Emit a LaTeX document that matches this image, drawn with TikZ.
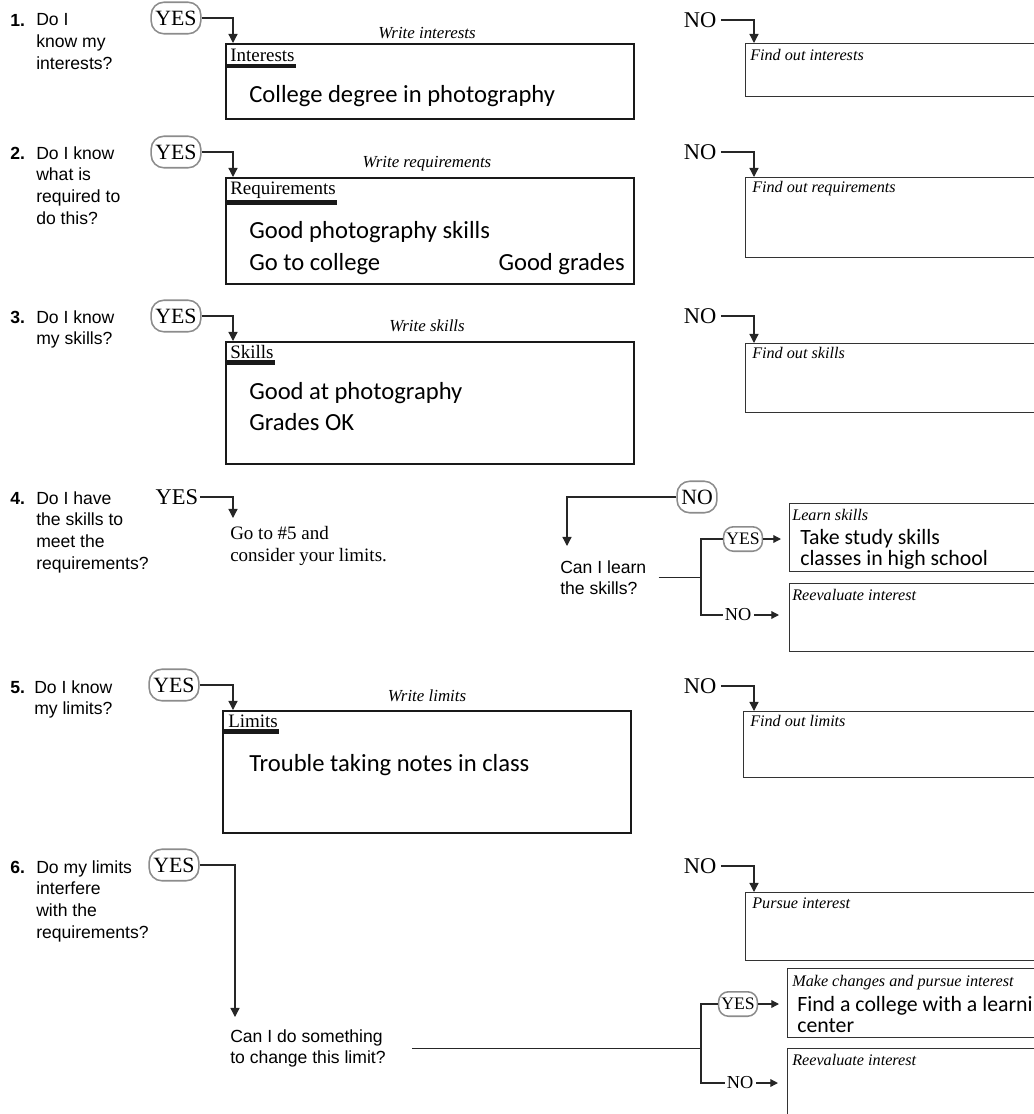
\documentclass[tikz,border=0pt]{standalone}
\usepackage{fontspec}
\setmainfont{Liberation Serif}
\setsansfont{Liberation Sans}
\newfontfamily\handfont{Carlito}
\usetikzlibrary{arrows.meta,calc}

\begin{document}
\begin{tikzpicture}[x=0.025cm, y=-0.025cm,
	link/.style={draw=black!85, line width=0.9pt},
	flow/.style={link, -{Triangle[width=6.5pt,length=6.5pt]}},
	flowsm/.style={link, -{Triangle[width=5.5pt,length=5.5pt]}},
	num/.style={font=\sffamily\bfseries\fontsize{12.5}{15.6}\selectfont, anchor=base west, inner sep=0pt},
	ques/.style={font=\sffamily\fontsize{12.5}{15.6}\selectfont, align=left, anchor=north west, inner sep=0pt},
	ring/.style={draw=black!45, line width=1.1pt, rounded corners=9pt, inner xsep=3pt, inner ysep=6pt, font=\fontsize{15.5}{18}\selectfont},
	ringsm/.style={draw=black!45, line width=1.1pt, rounded corners=7pt, inner xsep=2pt, inner ysep=4.5pt, font=\fontsize{12.5}{15}\selectfont},
	ans/.style={font=\fontsize{16}{18}\selectfont, inner sep=1pt},
	anssm/.style={font=\fontsize{13}{15}\selectfont, inner sep=1pt},
	hint/.style={font=\itshape\fontsize{12}{14}\selectfont, anchor=base, inner sep=0pt},
	tag/.style={font=\itshape\fontsize{11.5}{14}\selectfont, anchor=base west, inner sep=0pt},
	lab/.style={font=\fontsize{13.5}{16}\selectfont, anchor=base west, inner sep=0pt},
	hand/.style={font=\handfont\fontsize{17.5}{22}\selectfont, anchor=base west, inner sep=0pt},
	handsm/.style={font=\handfont\fontsize{15.5}{15}\selectfont, align=left, anchor=north west, inner sep=0pt},
	bigbox/.style={draw=black!90, line width=1.4pt, anchor=north west, minimum width=10.2cm, minimum height=#1, inner sep=0pt},
	rbox/.style={draw=black!80, line width=0.8pt, anchor=north west, minimum width=9.5cm, minimum height=#1, inner sep=0pt}]
	\useasboundingbox (0,0) rectangle (1034,1114);
	\clip (0,0) rectangle (1034,1114);

	% 1
	\node[num] (n1) at (10,26) {1.};
	\node[ques] (q1) at (36,13) {Do I\\know my\\interests?};
	\node[ring] (yes1) at (176,18) {YES};
	\node[bigbox=1.875cm] (intbox) at (225,43) {};
	\node[hint] (hint1) at (427,38) {Write interests};
	\node[lab] (intlab) at (230,61.5) {Interests};
	\node[hand] (int) at (249,102) {College degree in photography};
	\node[ans] (no1) at (700,20) {NO};
	\node[rbox=1.325cm] (findint) at (745,43) {};
	\node[tag] at (750,60) {Find out interests};
	\draw[flow] (yes1.east) -| ($(intbox.north west)+(8,0)$);
	\draw[flow] ([xshift=2pt]no1.east) -| ($(findint.north west)+(9,0)$);

	% 2
	\node[num] (n2) at (10,159) {2.};
	\node[ques] (q2) at (36,146) {Do I know\\what is\\required to\\do this?};
	\node[ring] (yes2) at (176,152) {YES};
	\node[bigbox=2.65cm] (reqbox) at (225,177) {};
	\node[hint] (hint2) at (427,167.5) {Write requirements};
	\node[lab] (reqlab) at (230,194) {Requirements};
	\node[hand] (req1) at (249,238) {Good photography skills};
	\node[hand] (req2) at (249,270) {Go to college};
	\node[hand, anchor=base east] (req3) at (625,270) {Good grades};
	\node[ans] (no2) at (700,152) {NO};
	\node[rbox=2cm] (findreq) at (745,177) {};
	\node[tag] at (752,192) {Find out requirements};
	\draw[flow] (yes2.east) -| ($(reqbox.north west)+(8,0)$);
	\draw[flow] ([xshift=2pt]no2.east) -| ($(findreq.north west)+(9,0)$);

	% 3
	\node[num] (n3) at (10,323) {3.};
	\node[ques] (q3) at (36,310) {Do I know\\my skills?};
	\node[ring] (yes3) at (176,316) {YES};
	\node[bigbox=3.05cm] (skillbox) at (225,341) {};
	\node[hint] (hint3) at (427,331) {Write skills};
	\node[lab] (skilllab) at (230,358) {Skills};
	\node[hand] (sk1) at (249,399) {Good at photography};
	\node[hand] (sk2) at (249,430) {Grades OK};
	\node[ans] (no3) at (700,316) {NO};
	\node[rbox=1.725cm] (findskill) at (745,343) {};
	\node[tag] at (752,358) {Find out skills};
	\draw[flow] (yes3.east) -| ($(skillbox.north west)+(8,0)$);
	\draw[flow] ([xshift=2pt]no3.east) -| ($(findskill.north west)+(9,0)$);

	% 4
	\node[num] (n4) at (10,504) {4.};
	\node[ques] (q4) at (36,491) {Do I have\\the skills to\\meet the\\requirements?};
	\node[ans] (yes4) at (177,497) {YES};
	\node[font=\fontsize{13.5}{15.6}\selectfont, align=left, anchor=north west, inner sep=0pt] (goto) at (230,526) {Go to \#5 and\\consider your limits.};
	\node[ring] (no4) at (697,497) {NO};
	\node[ques] (learnq) at (560,560) {Can I learn\\the skills?};
	\coordinate (fork4) at (701,579);
	\node[ringsm] (yes4b) at (743,539) {YES};
	\node[anssm] (no4b) at (738,615) {NO};
	\node[rbox=1.7cm] (learnbox) at (789,503) {};
	\node[tag] at (792,520) {Learn skills};
	\node[handsm] (learn) at (800,529) {Take study skills\\classes in high school};
	\node[rbox=1.7cm] (reeval4) at (789,583) {};
	\node[tag] at (792,600) {Reevaluate interest};
	\draw[flow] (yes4.east) -| ($(goto.north west)+(3,-8)$);
	\draw[flow] (no4.west) -| ($(learnq.north west)+(7,-14)$);
	\draw[link] ([xshift=0.3cm]learnq.east) -- (learnq.east -| fork4);
	\draw[link] (yes4b.west) -| (learnq.east -| fork4) |- (no4b.west);
	\draw[flowsm] (yes4b.east) -- ($(learnbox.west |- yes4b.east)+(-8,0)$);
	\draw[flowsm] ([xshift=1pt]no4b.east) -- ($(reeval4.west |- no4b.east)+(-10,0)$);

	% 5
	\node[num] (n5) at (10,693) {5.};
	\node[ques] (q5) at (34,680) {Do I know\\my limits?};
	\node[ring] (yes5) at (174,685) {YES};
	\node[bigbox=3.05cm] (limbox) at (222,710) {};
	\node[hint] (hint5) at (427,701) {Write limits};
	\node[lab] (limlab) at (228,727) {Limits};
	\node[hand] (lim) at (249,771) {Trouble taking notes in class};
	\node[ans] (no5) at (700,686) {NO};
	\node[rbox=1.65cm] (findlim) at (743,711) {};
	\node[tag] at (750,726) {Find out limits};
	\draw[flow] (yes5.east) -| ($(limbox.north west)+(11,0)$);
	\draw[flow] ([xshift=2pt]no5.east) -| ($(findlim.north west)+(11,0)$);

	% 6
	\node[num] (n6) at (10,873) {6.};
	\node[ques] (q6) at (36,860) {Do my limits\\interfere\\with the\\requirements?};
	\node[ring] (yes6) at (174,865) {YES};
	\node[ques] (changeq) at (230,1029) {Can I do something\\to change this limit?};
	\coordinate (fork6) at (701,1047);
	\node[ringsm] (yes6b) at (738,1004) {YES};
	\node[anssm] (no6b) at (740,1083) {NO};
	\node[ans] (no6) at (700,866) {NO};
	\node[rbox=1.7cm] (pursuebox) at (745,892) {};
	\node[tag] at (752,908) {Pursue interest};
	\node[rbox=1.725cm] (makebox) at (787,968) {};
	\node[tag] at (792,986) {Make changes and pursue interest};
	\node[handsm] (make) at (797,996) {Find a college with a learning\\center};
	\node[rbox=1.8cm] (reeval6) at (787,1048) {};
	\node[tag] at (792,1065) {Reevaluate interest};
	\draw[flow] (yes6.east) -| ($(changeq.north west)+(5,-12)$);
	\draw[flow] ([xshift=2pt]no6.east) -| ($(pursuebox.north west)+(9,0)$);
	\draw[link] ([xshift=0.65cm]changeq.east) -- (changeq.east -| fork6);
	\draw[link] (yes6b.west) -| (changeq.east -| fork6) |- (no6b.west);
	\draw[flowsm] (yes6b.east) -- ($(makebox.west |- yes6b.east)+(-8,0)$);
	\draw[flowsm] ([xshift=1pt]no6b.east) -- ($(reeval6.west |- no6b.east)+(-9,0)$);

	% bars under the box labels
	\foreach \b/\l in {intbox/intlab, reqbox/reqlab, skillbox/skilllab, limbox/limlab}
		\fill[black!90] (\b.west |- \l.south) ++(0,2) rectangle ($(\l.south east)+(1,6.5)$);
\end{tikzpicture}
\end{document}
